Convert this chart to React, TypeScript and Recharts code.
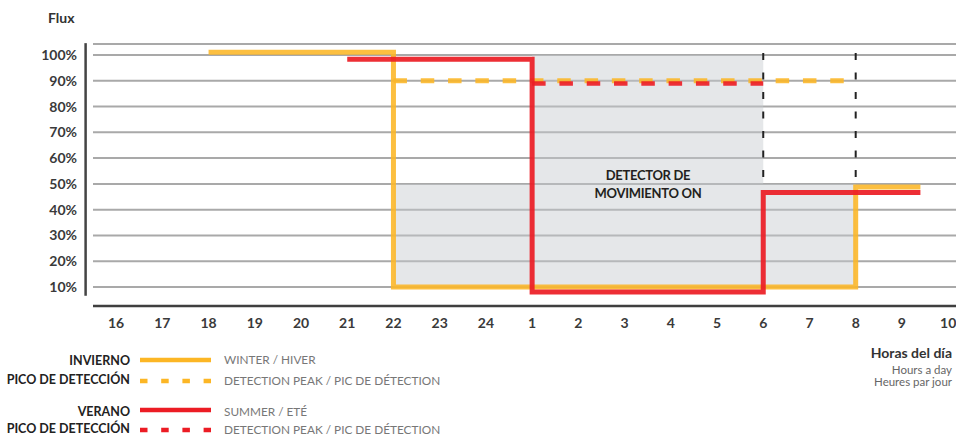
import React from 'react';
import { ComposedChart, Line, Area, XAxis, YAxis, CartesianGrid, ReferenceLine } from 'recharts';

// x axis: hour of day, placed by index (0 = 16h ... 18 = 10h)
const hourLabels = ['16', '17', '18', '19', '20', '21', '22', '23', '24', '1', '2', '3', '4', '5', '6', '7', '8', '9', '10'];
const hourIndex = hourLabels.map((_, i) => i);
const fluxTicks = [10, 20, 30, 40, 50, 60, 70, 80, 90, 100];

// [hour index, flux %] – each point starts a new level (step after)
const winterSteps = [[2, 101.1], [6, 10], [16, 48.8], [17.4, 48.8]];
const summerSteps = [[5, 98.4], [9, 8.1], [14, 46.7], [17.4, 46.7]];
const winterPeak = [[6, 90], [16, 90]];
const summerPeak = [[9, 88.9], [14, 88.9]];
// grey "detector on" zone, upper edge (base is 10%)
const detectorZone = [[6, 50], [9, 100], [14, 50], [16, 50]];
const detectorBase = 10;
// dashed markers at 6h and 8h
const markerHours = [14, 16];
const markerRange = [100.8, 51];

const toPts = (arr: number[][]) => arr.map(([x, y]) => ({ x, y }));

const YELLOW = '#fcb625';
const RED = '#ec1c24';
const FONT = 'Lato, "Noto Sans", sans-serif';

// text placed by the vertical centre of its capitals
const Txt = ({ x, cy, size = 12.5, bold = false, color = '#222', align = 'left', children }: any) => {
  const style: any = {
    position: 'absolute',
    top: cy - 0.527 * size,
    fontSize: size,
    lineHeight: `${size}px`,
    fontWeight: bold ? 700 : 400,
    color,
    whiteSpace: 'nowrap',
    fontFamily: FONT,
  };
  if (align === 'right') style.right = 956 - x;
  else style.left = x;
  return <div style={style}>{children}</div>;
};

const Sample = ({ y, color, dashed }: any) => (
  <svg style={{ position: 'absolute', left: 140, top: y - 4 }} width={72} height={8}>
    <line x1={0} x2={71} y1={4} y2={4} stroke={color} strokeWidth={4.5} strokeDasharray={dashed ? '7.5 13.7' : undefined} />
  </svg>
);

const App = () => {
  return (
    <div style={{ position: 'absolute', left: 0, top: 0, width: 956, height: 437, background: '#fff', fontFamily: FONT, overflow: 'hidden' }}>
      <Txt x={48} cy={18.5} size={14} bold color="#333">Flux</Txt>

      <div style={{ position: 'absolute', left: 0, top: 0 }}>
        <ComposedChart width={956} height={340} margin={{ top: 44, right: 0, bottom: 4, left: 0 }}>
          <CartesianGrid vertical={false} stroke="#a9a9a9" strokeWidth={2} />
          <XAxis
            dataKey="x"
            type="number"
            domain={[-0.5, 18.17]}
            ticks={hourIndex}
            tickFormatter={(i) => hourLabels[i]}
            allowDataOverflow
            height={30}
            axisLine={{ stroke: '#3f3f3f', strokeWidth: 2.5 }}
            tickLine={false}
            tickSize={0}
            tickMargin={12}
            tick={{ fill: '#3a3a3a', fontSize: 14, fontWeight: 700, fontFamily: FONT }}
          />
          <YAxis
            type="number"
            domain={[2.63, 104.27]}
            ticks={fluxTicks}
            allowDataOverflow
            width={93}
            tickFormatter={(v) => `${v}%`}
            axisLine={false}
            tickLine={false}
            tickSize={0}
            tickMargin={16}
            tick={{ fill: '#3a3a3a', fontSize: 14, fontWeight: 700, fontFamily: FONT }}
          />
          <ReferenceLine
            segment={[{ x: -0.66, y: 104.6 }, { x: -0.66, y: 6.6 }]}
            stroke="#444"
            strokeWidth={2.5}
            ifOverflow="visible"
          />
          <Area
            data={toPts(detectorZone)}
            dataKey="y"
            type="stepAfter"
            baseValue={detectorBase}
            fill="#c5c9cf"
            fillOpacity={0.45}
            stroke="none"
            isAnimationActive={false}
          />
          {markerHours.map((h) => (
            <ReferenceLine
              key={h}
              segment={[{ x: h, y: markerRange[0] }, { x: h, y: markerRange[1] }]}
              stroke="#222"
              strokeWidth={2}
              strokeDasharray="7 12.5"
            />
          ))}
          <Line data={toPts(winterPeak)} dataKey="y" type="linear" stroke={YELLOW} strokeOpacity={0.88} strokeWidth={5} strokeDasharray="13.5 13.8" dot={false} isAnimationActive={false} />
          <Line data={toPts(summerPeak)} dataKey="y" type="linear" stroke={RED} strokeOpacity={0.9} strokeWidth={4.5} strokeDasharray="13.5 13.8" dot={false} isAnimationActive={false} />
          <Line data={toPts(winterSteps)} dataKey="y" type="stepAfter" stroke={YELLOW} strokeOpacity={0.88} strokeWidth={5} strokeLinecap="butt" dot={false} isAnimationActive={false} />
          <Line data={toPts(summerSteps)} dataKey="y" type="stepAfter" stroke={RED} strokeOpacity={0.92} strokeWidth={5} strokeLinecap="butt" dot={false} isAnimationActive={false} />
        </ComposedChart>
      </div>

      <div style={{ position: 'absolute', left: 498, top: 167, width: 300, textAlign: 'center', fontSize: 13, lineHeight: '17.5px', fontWeight: 700, color: '#231f20', letterSpacing: -0.3 }}>
        DETECTOR DE<br />MOVIMIENTO ON
      </div>

      <Txt x={130} cy={361.5} bold align="right">INVIERNO</Txt>
      <Sample y={360.3} color={YELLOW} />
      <Txt x={224} cy={360.5} size={11.8} color="#777">WINTER / HIVER</Txt>

      <Txt x={130} cy={380.7} bold align="right">PICO DE DETECCIÓN</Txt>
      <Sample y={380.5} color={YELLOW} dashed />
      <Txt x={224} cy={381} size={11.8} color="#777">DETECTION PEAK / PIC DE DÉTECTION</Txt>

      <Txt x={130} cy={412.5} bold align="right">VERANO</Txt>
      <Sample y={410.3} color={RED} />
      <Txt x={224} cy={412.5} size={11.8} color="#777">SUMMER / ETÉ</Txt>

      <Txt x={130} cy={430} bold align="right">PICO DE DETECCIÓN</Txt>
      <Sample y={430} color={RED} dashed />
      <Txt x={224} cy={430.5} size={11.8} color="#777">DETECTION PEAK / PIC DE DÉTECTION</Txt>

      <Txt x={952} cy={353} size={14} bold color="#333" align="right">Horas del día</Txt>
      <Txt x={952} cy={370.5} size={11.5} color="#666" align="right">Hours a day</Txt>
      <Txt x={952} cy={381.7} size={11.5} color="#666" align="right">Heures par jour</Txt>
    </div>
  );
};

export default App;
